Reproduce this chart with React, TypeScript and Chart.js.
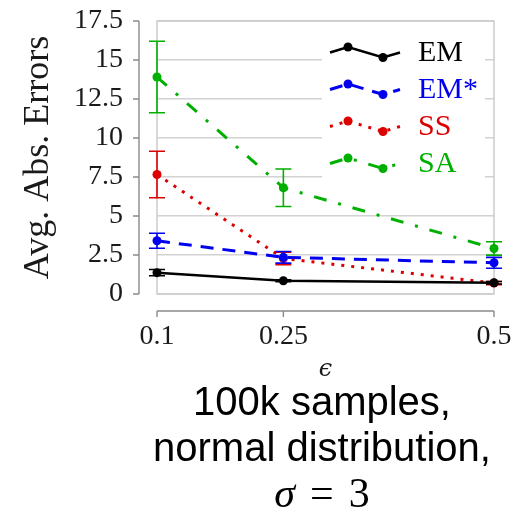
import React, { useEffect, useRef } from "react";
import { Chart, registerables } from "chart.js";

Chart.register(...registerables);

// ---- data ----
const xValues = [0.1, 0.25, 0.5];
const xTickLabels = ["0.1", "0.25", "0.5"];
const yTicks = [0, 2.5, 5, 7.5, 10, 12.5, 15, 17.5];
const seriesNames = ["EM", "EM*", "SS", "SA"];
const emValues = [1.37, 0.85, 0.72];
const emErrors = [0.2, 0.06, 0.08];
const emStarValues = [3.41, 2.35, 2.0];
const emStarErrors = [0.48, 0.37, 0.35];
const ssValues = [7.66, 2.28, 0.7];
const ssErrors = [1.49, 0.4, 0.1];
const saValues = [13.91, 6.81, 2.92];
const saErrors = [2.29, 1.2, 0.43];

const SERIF = "'Liberation Serif', 'Times New Roman', serif";

const styles = [
  { color: "#000000", width: 2.5, dash: [] as number[] },
  { color: "#0000ee", width: 3, dash: [13, 9] },
  { color: "#dd0000", width: 3, dash: [3, 7] },
  { color: "#00b000", width: 3, dash: [13, 12, 3, 12] },
];

const seriesValues = [emValues, emStarValues, ssValues, saValues];
const seriesErrors = [emErrors, emStarErrors, ssErrors, saErrors];

const errorBarPlugin = {
  id: "errorBars",
  afterDatasetDraw(chart: any, args: any) {
    const ds = chart.data.datasets[args.index];
    const xs = chart.scales.x;
    const ys = chart.scales.y;
    const ctx = chart.ctx;
    ctx.save();
    ctx.strokeStyle = ds.borderColor;
    ctx.lineWidth = 1.6;
    ctx.setLineDash([]);
    ds.data.forEach((p: any, i: number) => {
      const e = ds.errors[i];
      const px = xs.getPixelForValue(p.x);
      const yt = ys.getPixelForValue(p.y + e);
      const yb = ys.getPixelForValue(p.y - e);
      ctx.beginPath();
      ctx.moveTo(px, yt);
      ctx.lineTo(px, yb);
      ctx.moveTo(px - 8, yt);
      ctx.lineTo(px + 8, yt);
      ctx.moveTo(px - 8, yb);
      ctx.lineTo(px + 8, yb);
      ctx.stroke();
    });
    ctx.restore();
  },
};

const framePlugin = {
  id: "frameAxesLegend",
  beforeDatasetsDraw(chart: any) {
    const { ctx, chartArea: a } = chart;
    const xs = chart.scales.x;
    const ys = chart.scales.y;
    ctx.save();
    // frame
    ctx.strokeStyle = "#cccccc";
    ctx.lineWidth = 1.5;
    ctx.strokeRect(a.left, a.top, a.right - a.left, a.bottom - a.top);

    // separated y axis
    ctx.strokeStyle = "#8a8a8a";
    ctx.lineWidth = 1.4;
    const ax = a.left - 18;
    ctx.beginPath();
    ctx.moveTo(ax, a.top);
    ctx.lineTo(ax, a.bottom);
    ys.ticks.forEach((t: any) => {
      const py = ys.getPixelForValue(t.value);
      ctx.moveTo(ax - 6, py);
      ctx.lineTo(ax, py);
    });
    // separated x axis
    const ay = a.bottom + 17;
    ctx.moveTo(a.left, ay);
    ctx.lineTo(a.right, ay);
    xs.ticks.forEach((t: any) => {
      const px = xs.getPixelForValue(t.value);
      ctx.moveTo(px, ay);
      ctx.lineTo(px, ay + 6);
    });
    ctx.stroke();

    // legend
    const lx = a.right - 172;
    const ly = a.top + 7;
    ctx.fillStyle = "#ffffff";
    ctx.fillRect(lx, ly, 163, 160);
    chart.data.datasets.forEach((ds: any, i: number) => {
      const cy = a.top + 31.5 + i * 37;
      const sx = a.right - 164;
      const pts = [
        [sx, cy],
        [sx + 18, cy - 5.5],
        [sx + 53, cy + 5],
        [sx + 70, cy],
      ];
      ctx.strokeStyle = ds.borderColor;
      ctx.lineWidth = ds.borderWidth;
      ctx.setLineDash(ds.borderDash || []);
      ctx.beginPath();
      ctx.moveTo(pts[0][0], pts[0][1]);
      for (let k = 1; k < pts.length; k++) ctx.lineTo(pts[k][0], pts[k][1]);
      ctx.stroke();
      ctx.setLineDash([]);
      ctx.fillStyle = ds.borderColor;
      [pts[1], pts[2]].forEach((p) => {
        ctx.beginPath();
        ctx.arc(p[0], p[1], 4.5, 0, Math.PI * 2);
        ctx.fill();
      });
      ctx.font = `30px ${SERIF}`;
      ctx.textBaseline = "middle";
      ctx.textAlign = "left";
      ctx.fillText(ds.label, sx + 88, cy + 1);
    });
    ctx.restore();
  },
};

export default function App() {
  const canvasRef = useRef<HTMLCanvasElement | null>(null);

  useEffect(() => {
    document.body.style.margin = "0";
    const canvas = canvasRef.current;
    if (!canvas) return;
    const datasets = seriesNames.map((name, i) => ({
      label: name,
      data: xValues.map((x, j) => ({ x, y: seriesValues[i][j] })),
      errors: seriesErrors[i],
      borderColor: styles[i].color,
      backgroundColor: styles[i].color,
      borderWidth: styles[i].width,
      borderDash: styles[i].dash,
      pointRadius: 4.5,
      pointBorderWidth: 0,
      pointBackgroundColor: styles[i].color,
      tension: 0,
      clip: false,
    }));
    const chart = new Chart(canvas, {
      type: "line",
      data: { datasets } as any,
      options: {
        responsive: false,
        animation: false,
        layout: { padding: { left: 0, top: 21, right: 37, bottom: 0 } },
        plugins: { legend: { display: false }, tooltip: { enabled: false } },
        scales: {
          x: {
            type: "linear",
            min: 0.1,
            max: 0.5,
            afterFit: (s: any) => {
              s.height = 106;
              s.paddingLeft = 0;
              s.paddingRight = 0;
            },
            afterBuildTicks: (s: any) => {
              s.ticks = xValues.map((v) => ({ value: v }));
            },
            ticks: {
              callback: (v: any) => xTickLabels[xValues.indexOf(Number(v))] ?? "",
              font: { family: SERIF, size: 28 },
              color: "#1a1a1a",
              padding: 18,
              maxRotation: 0,
              autoSkip: false,
            },
            grid: { display: false },
            border: { display: false },
            title: {
              display: true,
              text: "ϵ",
              font: { family: "'DejaVu Serif', serif", size: 24, style: "italic" },
              color: "#1a1a1a",
              padding: { top: 0, bottom: 16 },
            },
          },
          y: {
            min: 0,
            max: 17.5,
            afterFit: (s: any) => {
              s.width = 157;
              s.paddingTop = 0;
              s.paddingBottom = 0;
            },
            afterBuildTicks: (s: any) => {
              s.ticks = yTicks.map((v) => ({ value: v }));
            },
            ticks: {
              callback: (v: any) => String(v),
              font: { family: SERIF, size: 28 },
              color: "#1a1a1a",
              padding: 34,
            },
            grid: { color: "#d2d2d2", lineWidth: 1.5, drawTicks: false },
            border: { display: false },
            title: {
              display: true,
              text: "Avg. Abs. Errors",
              font: { family: SERIF, size: 36 },
              color: "#1a1a1a",
              padding: { top: 17, bottom: 0 },
            },
          },
        },
      } as any,
      plugins: [framePlugin, errorBarPlugin],
    });
    return () => chart.destroy();
  }, []);

  return (
    <div style={{ position: "relative", width: 531, height: 513 }}>
      <canvas ref={canvasRef} width={531} height={400} style={{ display: "block" }} />
      <div
        style={{
          position: "absolute",
          left: 122,
          top: 378,
          width: 400,
          textAlign: "center",
          fontFamily: "'Liberation Sans', Arial, sans-serif",
          fontSize: 40,
          lineHeight: "46px",
          color: "#000",
        }}
      >
        <div>100k samples,</div>
        <div>normal distribution,</div>
        <div style={{ fontFamily: SERIF, fontSize: 42 }}>
          <span style={{ fontStyle: "italic" }}>σ</span>
          <span style={{ margin: "0 0.36em" }}>=</span>
          <span>3</span>
        </div>
      </div>
    </div>
  );
}
